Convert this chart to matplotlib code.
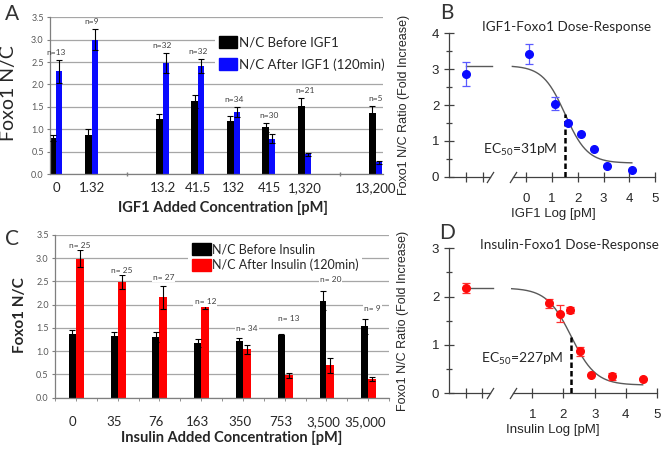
import numpy as np
import matplotlib
matplotlib.use('Agg')
import matplotlib.pyplot as plt
from matplotlib.ticker import MultipleLocator

plt.rcParams['font.family'] = ['Lato', 'DejaVu Sans']
plt.rcParams['mathtext.default'] = 'regular'

# ---- Panel A: IGF1 bar data ----
igf_labels = ['0', '1.32', '13.2', '41.5', '132', '415', '1,320', '13,200']
igf_before = [0.81, 0.88, 1.23, 1.62, 1.19, 1.04, 1.52, 1.36]
igf_before_err = [0.07, 0.12, 0.10, 0.15, 0.10, 0.11, 0.18, 0.16]
igf_after = [2.29, 3.00, 2.48, 2.41, 1.39, 0.79, 0.44, 0.26]
igf_after_err = [0.26, 0.24, 0.23, 0.16, 0.11, 0.10, 0.03, 0.04]
igf_n = [13, 9, 32, 32, 34, 30, 21, 5]

# ---- Panel C: insulin bar data ----
ins_labels = ['0', '35', '76', '163', '350', '753', '3,500', '35,000']
ins_before = [1.36, 1.32, 1.31, 1.18, 1.22, 1.34, 2.09, 1.54]
ins_before_err = [0.09, 0.10, 0.11, 0.08, 0.07, 0.03, 0.20, 0.16]
ins_after = [2.99, 2.49, 2.16, 2.01, 1.04, 0.48, 0.70, 0.40]
ins_after_err = [0.18, 0.15, 0.25, 0.10, 0.09, 0.06, 0.16, 0.05]
ins_n = [25, 25, 27, 12, 34, 13, 20, 9]

# ---- Panel B: IGF1 dose-response ----
igf_conc = [1.32, 13.2, 41.5, 132, 415, 1320, 13200]
igf_ratio = [3.42, 2.04, 1.50, 1.18, 0.76, 0.31, 0.20]
igf_ratio_err = [0.28, 0.17, 0, 0, 0, 0, 0]
igf_zero_ratio = 2.87
igf_zero_err = 0.34
igf_fit = dict(top=3.10, bottom=0.38, log_ec50=1.51, hill=1.0)

# ---- Panel D: insulin dose-response ----
ins_conc = [35, 76, 163, 350, 753, 3500, 35000]
ins_ratio = [1.86, 1.65, 1.72, 0.87, 0.37, 0.35, 0.29]
ins_ratio_err = [0.10, 0.17, 0.06, 0.09, 0, 0.07, 0]
ins_zero_ratio = 2.18
ins_zero_err = 0.11
ins_fit = dict(top=2.18, bottom=0.17, log_ec50=2.25, hill=1.1)

# layout: category slots (empty slots kept as in the original chart)
igf_slots = [0, 1, 3, 4, 5, 6, 7, 9]
ins_slots = list(range(8))
ins_n_y = [3.27, 2.73, 2.58, 2.06, 1.49, 1.71, 2.54, 1.92]

GRID = '#a6a6a6'
AXC = '#7f7f7f'
SANS = ['Liberation Sans', 'DejaVu Sans']


def hill_curve(x, top, bottom, log_ec50, hill):
    return bottom + (top - bottom) / (1 + 10 ** ((x - log_ec50) * hill))


def bar_panel(ax, slots, labels, before, before_err, after, after_err, color,
              w_black, w_col, xlim, tick_shift, tick_pad):
    s = np.array(slots, dtype=float)
    ax.bar(s - w_black, before, width=w_black, align='edge', color='black', zorder=2)
    ax.bar(s, after, width=w_col, align='edge', color=color, zorder=2)
    ax.errorbar(s - w_black / 2, before, yerr=before_err, fmt='none', ecolor='black',
                elinewidth=0.8, capsize=2, capthick=0.8, zorder=3)
    ax.errorbar(s + w_col / 2, after, yerr=after_err, fmt='none', ecolor='black',
                elinewidth=0.8, capsize=2, capthick=0.8, zorder=3)
    ax.set_xlim(*xlim)
    ax.set_ylim(0, 3.5)
    ax.yaxis.set_major_locator(MultipleLocator(0.5))
    ax.yaxis.set_major_formatter(matplotlib.ticker.FormatStrFormatter('%.1f'))
    ax.yaxis.grid(True, color=GRID, lw=0.9)
    ax.set_axisbelow(True)
    for sp in ['top', 'right']:
        ax.spines[sp].set_visible(False)
    for sp in ['left', 'bottom']:
        ax.spines[sp].set_color(AXC)
        ax.spines[sp].set_linewidth(0.9)
    ax.set_xticks(s + tick_shift)
    ax.set_xticklabels(labels, fontsize=9.5, color='#262626')
    ax.tick_params(axis='x', length=0, pad=tick_pad)
    ax.tick_params(axis='y', labelsize=6.5, labelcolor='#595959', length=2.5,
                   color=AXC, pad=2)


fig = plt.figure(figsize=(6.65, 4.5), dpi=100)

# ---------------- Panel A ----------------
axA = fig.add_axes([0.0752, 0.6133, 0.5008, 0.3482])
bar_panel(axA, igf_slots, igf_labels, igf_before, igf_before_err, igf_after, igf_after_err,
          '#0a0aff', 0.19, 0.17, (-0.17, 9.21), 0.0, 6)
tops = np.maximum(np.add(igf_before, igf_before_err), np.add(igf_after, igf_after_err))
for sl, t, n in zip(igf_slots, tops, igf_n):
    axA.annotate(f'n={n}', (sl, t), xytext=(0, 2.5), textcoords='offset points',
                 ha='center', va='bottom', fontsize=6, color='#404040')
hA = axA.legend(handles=[plt.Rectangle((0, 0), 1, 1, color='black'),
                         plt.Rectangle((0, 0), 1, 1, color='#0a0aff')],
                labels=['N/C Before IGF1', 'N/C After IGF1 (120min)'],
                loc='upper left', bbox_to_anchor=(0.475, 0.95), fontsize=9.5,
                frameon=True, facecolor='white', edgecolor='none', framealpha=1,
                handlelength=1.4, handleheight=1.0, handletextpad=0.1,
                labelspacing=0.75, borderpad=0.3, fancybox=False)
for t in hA.get_texts():
    t.set_color('#262626')
axA.set_ylabel('Foxo1 N/C', fontsize=14, color='#262626')
axA.yaxis.set_label_coords(-0.1, 0.515)
axA.set_xlabel('IGF1 Added Concentration [pM]', fontsize=10.5, fontweight='bold',
               color='#262626')
axA.xaxis.set_label_coords(0.52, -0.17)
# small marks at the empty slots
axA.plot([2, 8], [0, 0], ls='none', marker='|', ms=3, color=AXC, clip_on=False)

# ---------------- Panel C ----------------
axC = fig.add_axes([0.0827, 0.1162, 0.5023, 0.3616])
bar_panel(axC, ins_slots, ins_labels, ins_before, ins_before_err, ins_after, ins_after_err,
          '#ff0000', 0.165, 0.19, (-0.17, 7.2), -0.08, 13)
for sl, yy, n in zip(ins_slots, ins_n_y, ins_n):
    axC.text(sl + 0.1, yy, f'n= {n}', ha='center', va='center', fontsize=6,
             color='#404040', bbox=dict(fc='white', ec='none', pad=0.8), zorder=4)
axC.set_xticks(np.arange(-0.5, 7.6, 0.5), minor=True)
axC.tick_params(axis='x', which='minor', length=2.5, color=AXC)
hC = axC.legend(handles=[plt.Rectangle((0, 0), 1, 1, color='black'),
                         plt.Rectangle((0, 0), 1, 1, color='#ff0000')],
                labels=['N/C Before Insulin', 'N/C After Insulin (120min)'],
                loc='upper left', bbox_to_anchor=(0.38, 1.01), fontsize=9,
                frameon=True, facecolor='white', edgecolor='none', framealpha=1,
                handlelength=1.5, handleheight=1.1, handletextpad=0.1,
                labelspacing=0.25, borderpad=0.3, fancybox=False)
for t in hC.get_texts():
    t.set_color('#262626')
axC.set_ylabel('Foxo1 N/C', fontsize=11, fontweight='bold', color='#262626')
axC.yaxis.set_label_coords(-0.085, 0.51)
axC.set_xlabel('Insulin Added Concentration [pM]', fontsize=10.5, fontweight='bold',
               color='#262626')
axC.xaxis.set_label_coords(0.528, -0.205)


def dose_panel(ax, conc, ratio, err, zero_ratio, zero_err, fit, color, ecolor,
               xlim, ylim, zero_x, extra_x, brk, curve_rng, plateau_end, xticks,
               ec_label, ec_xy, title, title_xy, xlabel):
    logc = np.log10(conc)
    ax.set_xlim(*xlim)
    ax.set_ylim(*ylim)
    # fitted 4-parameter logistic
    xc = np.linspace(curve_rng[0], curve_rng[1], 200)
    ax.plot(xc, hill_curve(xc, **fit), color='#595959', lw=1.0, zorder=2)
    ax.plot([zero_x, plateau_end], [fit['top']] * 2, color='#595959', lw=1.0, zorder=2)
    ec = fit['log_ec50']
    ax.plot([ec, ec], [0, hill_curve(ec, **fit)], color='black', lw=1.8,
            ls=(0, (2.2, 1.2)), zorder=3)
    ax.errorbar(logc, ratio, yerr=err, fmt='o', color=color, ecolor=ecolor, ms=5.5,
                elinewidth=0.9, capsize=3, capthick=0.9, zorder=4)
    ax.errorbar([zero_x], [zero_ratio], yerr=[zero_err], fmt='o', color=color,
                ecolor=ecolor, ms=5.5, elinewidth=0.9, capsize=3, capthick=0.9, zorder=4)
    # broken x axis
    ax.spines['bottom'].set_visible(False)
    for sp in ['top', 'right']:
        ax.spines[sp].set_visible(False)
    ax.spines['left'].set_color('#404040')
    ax.spines['left'].set_linewidth(0.9)
    ax.plot([xlim[0], brk[0]], [ylim[0]] * 2, color='#404040', lw=0.9, clip_on=False)
    ax.plot([brk[1], xlim[1]], [ylim[0]] * 2, color='#404040', lw=0.9, clip_on=False)
    ax.plot(brk, [ylim[0]] * 2, ls='none', marker=[(-1, -1.6), (1, 1.6)], ms=8,
            mec='#404040', mew=0.9, clip_on=False)
    ax.set_xticks([zero_x, extra_x] + xticks)
    ax.set_xticklabels(['', ''] + [str(t) for t in xticks])
    ax.set_yticks(np.arange(ylim[0], ylim[1] + 0.1, 1))
    ax.yaxis.set_minor_locator(MultipleLocator(0.5))
    ax.tick_params(which='major', direction='inout', length=7, width=0.9, color='#404040',
                   labelsize=9.5, labelcolor='#262626')
    ax.tick_params(which='minor', direction='inout', length=4, width=0.9, color='#404040')
    ax.tick_params(axis='x', pad=8)
    for lab in ax.get_xticklabels() + ax.get_yticklabels():
        lab.set_fontfamily(SANS)
    ax.text(ec_xy[0], ec_xy[1], ec_label, ha='right', va='center', fontsize=10,
            color='#262626')
    ax.text(title_xy[0], title_xy[1], title, transform=ax.transAxes, ha='center',
            va='center', fontsize=9.7, color='#262626')
    ax.set_xlabel(xlabel, fontsize=9.5, color='#262626', fontfamily=SANS)
    ax.set_ylabel('Foxo1 N/C Ratio (Fold Increase)', fontsize=9, color='#262626',
                  fontfamily=SANS)
    ax.yaxis.set_label_coords(-0.19, 0.5)


# ---------------- Panel B ----------------
axB = fig.add_axes([0.6752, 0.6073, 0.3098, 0.3187])
dose_panel(axB, igf_conc, igf_ratio, igf_ratio_err, igf_zero_ratio, igf_zero_err, igf_fit,
           '#0a0aff', '#5a5aff', (-3.0, 5.0), (0, 4), -2.33, -1.67, [-1.4, -0.5],
           (-0.54, 4.1), -1.33, [0, 1, 2, 3, 4, 5],
           'EC$_{50}$=31pM', (1.2, 0.76), 'IGF1-Foxo1 Dose-Response', (0.573, 1.045),
           'IGF1 Log [pM]')
axB.xaxis.set_label_coords(0.505, -0.22)

# ---------------- Panel D ----------------
axD = fig.add_axes([0.6752, 0.126, 0.3128, 0.3222])
dose_panel(axD, ins_conc, ins_ratio, ins_ratio_err, ins_zero_ratio, ins_zero_err, ins_fit,
           '#ff0a0a', '#ff3030', (-1.67, 5.0), (0, 3), -1.12, -0.61, [-0.35, 0.38],
           (0.34, 4.54), -0.27, [1, 2, 3, 4, 5],
           'EC$_{50}$=227pM', (1.99, 0.72), 'Insulin-Foxo1 Dose-Response', (0.58, 1.025),
           'Insulin Log [pM]')
axD.xaxis.set_label_coords(0.5, -0.21)

# panel letters
for letter, (px, py) in zip('ABCD', [(12, 13.5), (447, 13), (12, 239), (447, 233)]):
    fig.text(px / 665, 1 - py / 450, letter, ha='center', va='center', fontsize=15,
             color='#333333')

fig.savefig('out.png', dpi=100)
